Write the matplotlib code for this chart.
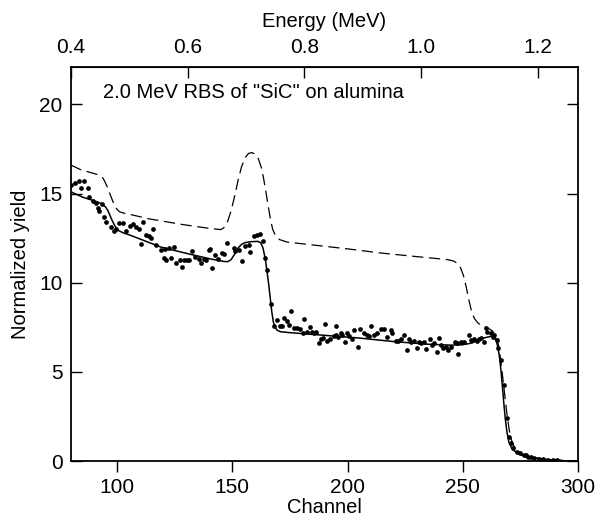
import matplotlib
matplotlib.use("Agg")
import matplotlib.pyplot as plt

plt.rcParams['font.family'] = ['Liberation Sans', 'DejaVu Sans']

# measured spectrum (dots): channel, normalized yield
chan_pts = [80.0, 81.9, 83.3, 84.3, 85.8, 87.3, 88.0, 89.7, 91.0, 91.9, 92.3, 93.5, 94.5, 95.2,
            97.4, 98.8, 99.6, 100.7, 102.5, 103.9, 105.4, 106.8, 108.3, 109.4, 110.4, 111.4,
            112.6, 113.8, 114.8, 115.8, 117.0, 119.1, 120.2, 120.6, 121.3, 122.7, 123.5, 124.9,
            125.7, 127.3, 128.2, 129.0, 130.3, 131.0, 132.5, 133.9, 135.4, 136.4, 137.5, 138.7,
            139.7, 140.4, 141.2, 142.6, 143.6, 145.5, 146.5, 147.7, 150.6, 151.3, 152.7, 154.2,
            155.7, 157.1, 157.5, 159.3, 160.7, 162.2, 163.3, 164.3, 165.1, 166.8, 168.0, 169.4,
            170.9, 171.6, 172.6, 173.8, 174.5, 175.5, 176.7, 178.1, 179.3, 180.7, 181.3, 182.5,
            183.6, 184.6, 185.3, 186.5, 187.5, 188.6, 189.4, 190.4, 191.2, 192.6, 194.0, 194.8,
            195.2, 195.8, 197.0, 197.7, 198.7, 199.9, 200.6, 202.0, 203.0, 204.5, 205.3, 207.1,
            208.3, 209.3, 210.3, 211.4, 212.9, 214.3, 215.8, 217.3, 218.7, 219.4, 220.9, 222.1,
            223.3, 224.5, 225.7, 226.7, 227.7, 228.8, 230.0, 231.0, 232.0, 233.2, 233.9, 235.8,
            236.8, 237.5, 238.7, 239.7, 240.7, 241.6, 242.6, 243.6, 244.8, 246.5, 247.7, 247.9,
            249.1, 250.6, 252.7, 253.5, 254.9, 256.1, 257.1, 258.1, 259.0, 260.0, 260.7, 262.2,
            262.9, 263.6, 264.8, 265.4, 266.4, 268.0, 269.1, 270.1, 270.9, 272.0, 273.5, 274.9,
            276.4, 277.4, 278.4, 279.6, 281.0, 283.0, 285.0, 287.0, 289.0, 291.0]
yield_pts = [15.5, 15.6, 15.7, 15.3, 15.7, 15.3, 14.8, 14.6, 14.5, 14.2, 14.0, 14.4, 13.7, 13.4,
             13.1, 12.9, 13.0, 13.35, 13.35, 12.9, 13.2, 13.3, 13.1, 13.0, 12.2, 13.4,
             12.7, 12.6, 12.5, 13.0, 12.1, 11.85, 11.4, 11.9, 11.25, 11.95, 11.4, 12.0,
             11.1, 11.3, 10.9, 11.3, 11.25, 11.3, 11.76, 11.44, 11.33, 11.1, 11.33, 11.25,
             11.85, 11.9, 10.8, 11.57, 11.33, 11.67, 11.63, 12.23, 11.95, 11.76, 11.85, 11.2,
             12.04, 12.13, 11.7, 12.6, 12.7, 12.74, 12.32, 11.4, 10.7, 8.8, 7.58, 7.92,
             7.55, 7.6, 8.05, 7.85, 7.64, 8.39, 7.45, 7.45, 7.4, 7.17, 7.98, 7.26,
             7.54, 7.26, 7.2, 7.26, 6.61, 6.84, 6.89, 7.7, 6.76, 6.84, 7.02, 7.08,
             7.58, 6.95, 7.17, 7.08, 6.7, 7.17, 7.02, 6.84, 7.36, 6.42, 7.4, 7.17,
             7.08, 7.02, 7.58, 7.08, 7.17, 7.4, 7.4, 6.98, 7.36, 7.2, 6.76, 6.75,
             6.84, 7.08, 6.24, 6.84, 6.7, 6.76, 6.33, 6.65, 6.61, 6.65, 6.27, 6.84,
             6.52, 6.61, 6.14, 6.89, 6.52, 6.33, 6.42, 6.24, 6.39, 6.65, 6.61, 6.01,
             6.7, 6.65, 7.08, 6.8, 6.84, 6.76, 6.84, 6.89, 6.7, 7.45, 7.26, 7.17,
             6.95, 7.08, 6.8, 6.33, 5.67, 4.27, 2.4, 1.37, 1.03, 0.71, 0.52, 0.43,
             0.34, 0.34, 0.24, 0.21, 0.15, 0.12, 0.1, 0.08, 0.05, 0.03]

# simulation (solid line)
chan_fit = [80, 85, 90, 93, 95, 96, 97, 98, 99, 100, 101, 103, 105, 110, 119, 130, 140, 146,
            148, 149.5, 151, 152.5, 154, 155.5, 158, 161, 162.3, 163.3, 164.3, 165, 165.7, 166.4,
            167.1, 167.8, 168.6, 169.5, 171, 175, 190, 205, 220, 235, 245, 250, 254, 257, 260,
            262.5, 263.6, 264.5, 265.3, 266, 266.7, 267.3, 267.9, 268.5, 269.2, 270, 271.2,
            273, 275.5, 280, 287, 292, 300]
yield_fit = [15.1, 14.8, 14.6, 14.45, 14.25, 14.05, 13.75, 13.45, 13.2, 13.0, 12.9, 12.78, 12.7,
             12.45, 12.0, 11.65, 11.35, 11.2, 11.18, 11.3, 11.6, 11.95, 12.15, 12.25, 12.3,
             12.32, 12.25, 11.95, 11.35, 10.7, 10.0, 9.2, 8.4, 7.8, 7.5, 7.33, 7.25, 7.2, 7.05,
             6.9, 6.7, 6.55, 6.5, 6.52, 6.62, 6.8, 6.93, 7.0, 6.95, 6.75, 6.35, 5.75, 4.9, 4.0,
             3.1, 2.3, 1.6, 1.05, 0.72, 0.5, 0.33, 0.2, 0.08, 0.02, 0.0]

# simulation for stoichiometric SiC (dashed line)
chan_sic = [80, 84, 88, 92, 94, 95.5, 97, 98.5, 99.8, 101, 103, 105, 114, 128.6, 140, 145,
            146.5, 148, 149.5, 151, 152.5, 154, 155.5, 157, 158.5, 160, 161.3, 162.5, 163.5,
            164.5, 165.5, 166.5, 167.5, 168.7, 170.5, 173.8, 200, 214.3, 228.8, 243.3, 246,
            247.5, 249, 250.3, 251.5, 252.7, 253.8, 255, 256.5, 258.6, 261, 262.8, 264,
            265.2, 266, 266.8, 267.5, 268.3, 269.2, 270.2, 271.5, 273.5, 276.5, 285, 300]
yield_sic = [16.6, 16.35, 16.2, 16.05, 15.85, 15.45, 14.95, 14.45, 14.15, 13.98, 13.9, 13.85,
             13.58, 13.26, 13.05, 12.98, 13.1, 13.45, 14.05, 14.85, 15.75, 16.5, 17.0, 17.25,
             17.3, 17.2, 16.95, 16.5, 15.9, 15.15, 14.35, 13.6, 13.0, 12.65, 12.42, 12.28, 11.9,
             11.67, 11.48, 11.3, 11.22, 11.1, 10.85, 10.4, 9.75, 9.0, 8.4, 8.0, 7.75, 7.55,
             7.45, 7.3, 7.1, 6.7, 6.1, 5.3, 4.5, 3.6, 2.6, 1.7, 1.0, 0.55, 0.3, 0.1, 0.0]

x_ticks = [100, 150, 200, 250, 300]
y_ticks = [0, 5, 10, 15, 20]
e_ticks = [0.4, 0.6, 0.8, 1.0, 1.2]
kev_per_ch = 0.00395

fig = plt.figure(figsize=(5.98, 5.19), dpi=100)
ax = fig.add_axes([0.1187, 0.1117, 0.8479, 0.7592])

ax.plot(chan_sic, yield_sic, color='black', lw=0.9, dashes=(9, 4.5))
ax.plot(chan_fit, yield_fit, color='black', lw=1.1)
ax.plot(chan_pts, yield_pts, 'o', color='black', ms=3.4, mew=0)

ax.set_xlim(80, 300)
ax.set_ylim(0, 22.1)
ax.set_xticks(x_ticks)
ax.set_yticks(y_ticks)
ax.tick_params(axis='x', direction='out', length=8, width=1, labelsize=15, pad=4)
ax.tick_params(axis='y', direction='in', length=8, width=1, labelsize=15, right=True, pad=6)
for s in ax.spines.values():
    s.set_linewidth(1.3)

ax.set_xlabel('Channel', fontsize=14.5, labelpad=1)
ax.set_ylabel('Normalized yield', fontsize=14.5, labelpad=7)

top = ax.secondary_xaxis('top', functions=(lambda c: 0.4 + (c - 80) * kev_per_ch,
                                           lambda e: 80 + (e - 0.4) / kev_per_ch))
top.set_xticks(e_ticks)
top.set_xticklabels(['0.4', '0.6', '0.8', '1.0', '1.2'])
top.tick_params(direction='in', length=8, width=1, labelsize=15, pad=7)
top.set_xlabel('Energy (MeV)', fontsize=14.5, labelpad=8)

ax.text(0.064, 0.935, '2.0 MeV RBS of "SiC" on alumina', transform=ax.transAxes,
        fontsize=14.5, va='center', ha='left')

fig.savefig('out.png', dpi=100)
